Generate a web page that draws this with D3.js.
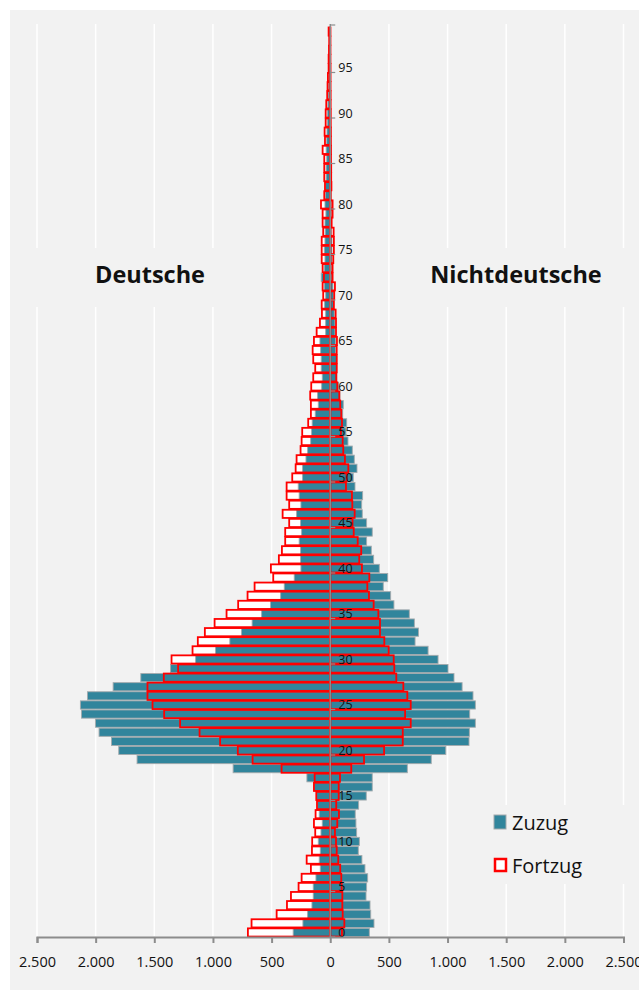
<!DOCTYPE html>
<html>
<head>
<meta charset="utf-8">
<script src="https://cdn.jsdelivr.net/npm/d3@7"></script>
<style>
  body { margin: 0; background: #fff; }
  svg { display: block; font-family: "Open Sans", sans-serif; }
</style>
</head>
<body>
<svg id="chart" width="639" height="990"></svg>
<script>
// Altersjahre 0..99
var ages = d3.range(0, 100);

// Deutsche (linke Seite)
var deZuzug = [316,233,193,156,145,145,122,85,94,85,
  102,79,68,94,108,116,139,199,828,1647,
  1803,1865,1971,2002,2121,2130,2070,1851,1615,1362,
  1148,978,856,756,666,585,509,423,392,307,
  250,253,253,265,244,253,287,250,265,273,
  236,236,207,193,167,159,154,128,102,108,
  73,68,77,77,82,88,39,39,39,48,
  39,51,77,51,45,51,45,43,45,37,
  45,40,40,35,35,30,35,30,28,25,
  25,20,18,15,12,10,8,6,5,5];
var deFortzug = [702,671,457,369,335,270,244,165,201,156,
  154,128,139,125,113,119,139,133,415,662,
  788,939,1114,1280,1416,1515,1558,1558,1419,1297,
  1353,1174,1129,1069,986,884,785,705,645,486,
  506,438,412,384,384,350,406,350,372,372,
  324,295,287,253,244,239,188,165,165,171,
  162,145,128,145,150,139,116,88,71,73,
  60,65,54,65,73,73,73,60,65,65,
  79,51,45,51,51,51,65,45,48,39,
  39,34,26,23,20,14,14,11,9,14];

// Nichtdeutsche (rechte Seite)
var ndZuzug = [333,373,345,339,305,310,319,296,270,239,
  248,225,219,213,242,307,358,358,657,861,
  985,1183,1186,1237,1189,1237,1217,1124,1055,1004,
  919,834,723,752,717,674,543,515,452,490,
  418,370,350,310,358,310,273,268,276,211,
  196,228,205,188,151,134,140,106,111,83,
  72,57,57,57,46,46,40,40,34,29,
  29,23,15,12,15,15,15,12,10,10,
  10,8,8,6,6,5,5,4,4,3,
  3,2,2,2,1,1,1,1,0,0];
var ndFortzug = [100,120,106,103,103,97,94,85,68,55,
  49,40,60,74,51,72,72,83,179,288,
  459,618,618,686,638,686,657,623,563,546,
  541,498,461,424,424,410,370,330,316,333,
  270,247,264,234,200,190,208,188,185,134,
  140,154,125,111,106,91,100,94,85,77,
  60,51,55,55,55,57,49,49,46,31,
  34,40,20,20,26,31,31,29,12,20,
  20,3,10,8,8,6,6,5,5,4,
  4,3,3,2,2,2,1,1,1,1];

var xTicks = [-2500,-2000,-1500,-1000,-500,0,500,1000,1500,2000,2500];
var ageTicks = d3.range(0, 100, 5);

var svg = d3.select('#chart');

// Hintergrund
svg.append('rect').attr('x', 10).attr('y', 10).attr('width', 629).attr('height', 980).attr('fill', '#f2f2f2');

// Skalen
var x = d3.scaleLinear().domain([-2500, 2500]).range([37, 623.5]);
var y = d3.scaleBand().domain(ages).range([937, 27]).paddingInner(0.1).paddingOuter(0.05);

var de = d3.formatLocale({decimal: ',', thousands: '.', grouping: [3], currency: ['', '€']});
var fmt = de.format(',');

// Gitterlinien
svg.append('g').selectAll('line')
  .data(xTicks)
  .enter().append('line')
  .attr('x1', function(d) { return x(d); })
  .attr('x2', function(d) { return x(d); })
  .attr('y1', 24).attr('y2', 936)
  .attr('stroke', '#ffffff')
  .attr('stroke-width', 1.5);

// Flächen hinter den Beschriftungen (unterbrechen die Gitterlinien)
svg.append('rect').attr('x', 20).attr('y', 248).attr('width', 225).attr('height', 59).attr('fill', '#f2f2f2');
svg.append('rect').attr('x', 418).attr('y', 248).attr('width', 218).attr('height', 59).attr('fill', '#f2f2f2');
svg.append('rect').attr('x', 485).attr('y', 805).attr('width', 150).attr('height', 79).attr('fill', '#f2f2f2');

svg.append('text').attr('x', 150).attr('y', 283).attr('text-anchor', 'middle')
  .attr('font-size', 23.5).attr('font-weight', 'bold').attr('fill', '#111').text('Deutsche');
svg.append('text').attr('x', 516).attr('y', 283).attr('text-anchor', 'middle')
  .attr('font-size', 23.5).attr('font-weight', 'bold').attr('fill', '#111').text('Nichtdeutsche');

// Tabelle für die Balken
var rows = ages.map(function(a, i) {
  return {age: a, deZ: deZuzug[i], deF: deFortzug[i], ndZ: ndZuzug[i], ndF: ndFortzug[i]};
});

function barL(sel, key) {
  sel.attr('x', function(d) { return x(-d[key]); })
    .attr('width', function(d) { return x(0) - x(-d[key]); })
    .attr('y', function(d) { return y(d.age); })
    .attr('height', y.bandwidth());
}
function barR(sel, key) {
  sel.attr('x', x(0))
    .attr('width', function(d) { return x(d[key]) - x(0); })
    .attr('y', function(d) { return y(d.age); })
    .attr('height', y.bandwidth());
}

// Fortzug: weiße Füllung unten
var gFill = svg.append('g');
gFill.selectAll('.fl').data(rows).enter().append('rect').call(barL, 'deF').attr('fill', '#fff');
gFill.selectAll('.fr').data(rows).enter().append('rect').call(barR, 'ndF').attr('fill', '#fff');

// Zuzug
var gZ = svg.append('g');
gZ.selectAll('.zl').data(rows).enter().append('rect').call(barL, 'deZ')
  .attr('fill', '#31859c').attr('stroke', '#a3aaad').attr('stroke-width', 0.9);
gZ.selectAll('.zr').data(rows).enter().append('rect').call(barR, 'ndZ')
  .attr('fill', '#31859c').attr('stroke', '#a3aaad').attr('stroke-width', 0.9);

// Fortzug: roter Rahmen oben
var gF = svg.append('g');
gF.selectAll('.ol').data(rows).enter().append('rect').call(barL, 'deF')
  .attr('fill', 'none').attr('stroke', '#ff0000').attr('stroke-width', 1.8);
gF.selectAll('.or').data(rows).enter().append('rect').call(barR, 'ndF')
  .attr('fill', 'none').attr('stroke', '#ff0000').attr('stroke-width', 1.8);

// Mittelachse (Alter)
var step = y.step();
var yBottom = 937;
var gy = svg.append('g');
gy.append('line').attr('x1', x(0)).attr('x2', x(0)).attr('y1', 24).attr('y2', yBottom)
  .attr('stroke', '#8c8c8c').attr('stroke-width', 1.5);
gy.selectAll('.tk').data(ageTicks).enter().append('line')
  .attr('x1', x(0)).attr('x2', x(0) + 5)
  .attr('y1', function(d) { return yBottom - d * step; })
  .attr('y2', function(d) { return yBottom - d * step; })
  .attr('stroke', '#8c8c8c').attr('stroke-width', 1.2);
gy.append('line').attr('x1', x(0)).attr('x2', x(0) + 5).attr('y1', 25).attr('y2', 25)
  .attr('stroke', '#8c8c8c').attr('stroke-width', 1.2);
gy.selectAll('.lb').data(ageTicks).enter().append('text')
  .attr('x', x(0) + 8)
  .attr('y', function(d) { return y(d) + y.bandwidth() / 2; })
  .attr('dy', '0.35em')
  .attr('font-size', 12.5)
  .attr('fill', '#111')
  .text(function(d) { return d; });

// x-Achse
var xAxis = d3.axisBottom(x).tickValues(xTicks).tickSize(6).tickSizeOuter(6)
  .tickFormat(function(d) { return fmt(Math.abs(d)); });
var gx = svg.append('g').attr('transform', 'translate(0,' + yBottom + ')').call(xAxis);
gx.select('.domain').attr('stroke', '#8c8c8c').attr('stroke-width', 2);
gx.selectAll('.tick line').attr('stroke', '#8c8c8c').attr('stroke-width', 2);
gx.selectAll('.tick text').attr('font-size', 14.5).attr('fill', '#111').attr('dy', '1.45em')
  .attr('font-family', '"Open Sans", sans-serif');

// Legende
var lg = svg.append('g');
lg.append('rect').attr('x', 494).attr('y', 815).attr('width', 12).attr('height', 14)
  .attr('fill', '#31859c').attr('stroke', '#a3aaad').attr('stroke-width', 1);
lg.append('text').attr('x', 512).attr('y', 830).attr('font-size', 20).attr('fill', '#111').text('Zuzug');
lg.append('rect').attr('x', 495).attr('y', 859).attr('width', 11).attr('height', 12)
  .attr('fill', '#fff').attr('stroke', '#ff0000').attr('stroke-width', 2.5);
lg.append('text').attr('x', 512).attr('y', 873).attr('font-size', 20).attr('fill', '#111').text('Fortzug');
</script>
</body>
</html>
